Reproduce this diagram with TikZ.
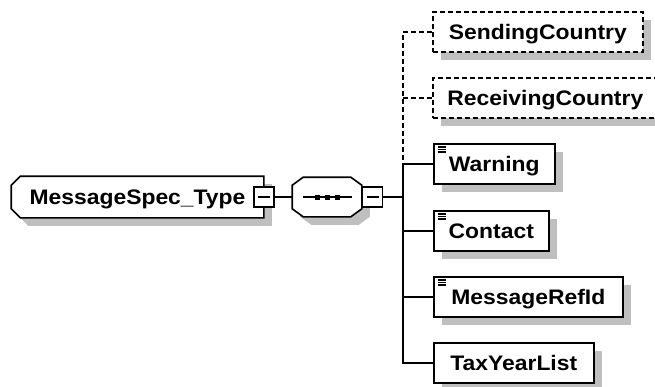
\documentclass[tikz,border=0pt]{standalone}
\usepackage{fontspec}
\setmainfont{Liberation Sans}[FakeStretch=1.09]
\usetikzlibrary{shadows,backgrounds}

\begin{document}
\begin{tikzpicture}[x=1pt, y=-1pt, line width=1.6pt,
  shadowed/.style = {drop shadow={shadow xshift=8pt, shadow yshift=-8pt, fill=black!25, opacity=1}},
  box/.style = {draw, fill=white, shadowed, minimum height=40pt, text height=15pt, text depth=0pt,
    font=\fontsize{21pt}{24pt}\selectfont\bfseries},
  elem/.style = {box, anchor=west},
  outline/.style = {draw=black, line width=1.6pt, fill=white, shadowed},
  optional/.style = {dash pattern=on 5pt off 3pt},
  simple/.style = {path picture={
    \foreach \dy in {3,5.5,8}
      \draw[line width=1.3pt] ([shift={(4pt,-\dy pt)}]path picture bounding box.north west) -- ++(8pt,0pt);}},
  minus/.style = {draw, fill=white, minimum size=20pt, inner sep=0pt, path picture={
    \draw ([xshift=4pt]path picture bounding box.west) -- ([xshift=-4pt]path picture bounding box.east);}},
  seqdots/.style = {path picture={
    \draw ([xshift=-24pt]path picture bounding box.center) -- ([xshift=25pt]path picture bounding box.center);
    \foreach \dx in {-10,0,10}
      \fill[black] ([xshift=\dx pt]path picture bounding box.center) +(-2.5pt,-2.5pt) rectangle +(2.5pt,2.5pt);}}
]
\useasboundingbox (0,0) rectangle (655,386);
\clip (0,0) rectangle (655,386);

\node[minimum width=251pt, minimum height=40pt, text height=15pt, text depth=0pt,
  font=\fontsize{21pt}{24pt}\selectfont\bfseries]
  (root) at (137.5,197) {MessageSpec\_Type\hspace{16pt}};
\node[minus] (rootminus) at (root.east) {};

\node[minimum width=68pt, minimum height=38pt, seqdots] (seq) at (327,197) {};
\node[minus, anchor=west] (seqminus) at (seq.east) {};
\coordinate (trunk) at (403,197);

% chamfered outlines behind the two left nodes
\begin{scope}[on background layer]
  \path[outline] (root.north east) -- ([xshift=9pt]root.north west) -- ([yshift=-9pt]root.north west)
    -- ([yshift=9pt]root.south west) -- ([xshift=9pt]root.south west) -- (root.south east) -- cycle;
  \path[outline] ([xshift=-11pt]seq.north east) -- ([xshift=11pt]seq.north west) -- ([yshift=-8pt]seq.north west)
    -- ([yshift=8pt]seq.south west) -- ([xshift=11pt]seq.south west) -- ([xshift=-11pt]seq.south east)
    -- ([yshift=8pt]seq.south east) -- ([yshift=-8pt]seq.north east) -- cycle;
\end{scope}

\node[elem, optional, minimum width=210pt] (sending)   at (432,32)  {SendingCountry};
\node[elem, optional, minimum width=225pt] (receiving) at (432,98)  {ReceivingCountry};
\node[elem, simple, minimum width=121pt]   (warning)   at (433,164) {Warning};
\node[elem, simple, minimum width=115pt]   (contact)   at (433,231) {Contact};
\node[elem, simple, minimum width=189pt]   (msgrefid)  at (433,297) {MessageRefId};
\node[elem, minimum width=160pt]           (taxyear)   at (433,363) {TaxYearList};

\draw (rootminus) -- (seq);
\draw (seqminus) -- (trunk);
\draw[optional] (sending.west) -| (trunk |- warning.west);
\draw[optional] (receiving.west) -- (receiving.west -| trunk);
\draw (taxyear.west) -| (trunk |- warning.west);
\draw (warning.west) -- (warning.west -| trunk);
\draw (contact.west) -- (contact.west -| trunk);
\draw (msgrefid.west) -- (msgrefid.west -| trunk);
\end{tikzpicture}
\end{document}
